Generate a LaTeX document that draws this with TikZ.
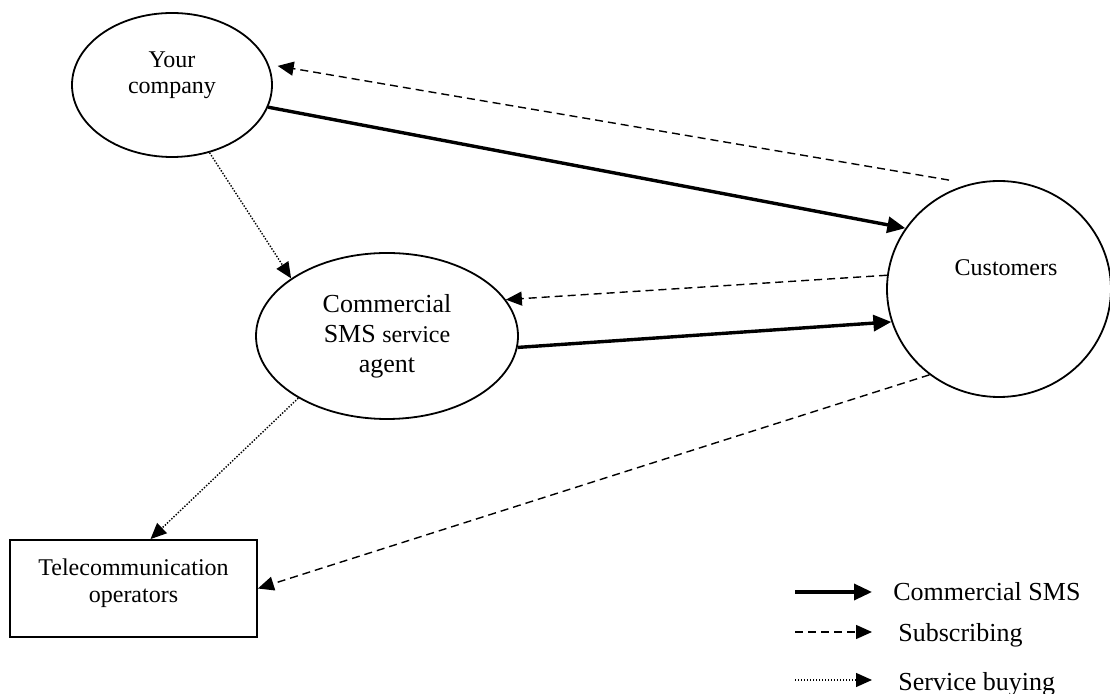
\documentclass[tikz,border=0pt]{standalone}
\usepackage{fontspec}
\setmainfont{Liberation Serif}
\usetikzlibrary{arrows.meta,shapes.geometric,calc}
\begin{document}
\begin{tikzpicture}[x=0.5pt,y=-0.5pt,
 ell/.style={draw,ellipse,line width=0.9pt,inner sep=0pt},
 boxnode/.style={draw,rectangle,line width=0.9pt,inner sep=0pt},
 sms/.style={line width=1.7pt,-{Triangle[length=9pt,width=8pt]}},
 sub/.style={line width=0.7pt,dash pattern=on 4pt off 2.5pt,-{Triangle[length=8pt,width=7pt]}},
 buy/.style={line width=0.7pt,dash pattern=on 0.7pt off 0.8pt,-{Triangle[length=8pt,width=7pt]}},
 txt/.style={font=\fontsize{12}{13}\selectfont,align=center,inner sep=0pt},
 leg/.style={font=\fontsize{13}{15}\selectfont,anchor=west,inner sep=0pt}]
\useasboundingbox (0,0) rectangle (1110,694);
% nodes
\node[ell,minimum width=100pt,minimum height=72pt] (yc) at (172,85) {};
\node[txt] (yct) at (172,75) {Your\\company};
\node[ell,minimum width=131pt,minimum height=83pt,align=center,
      font=\fontsize{13}{15}\selectfont] (ag) at (387,336)
      {Commercial\\SMS {\fontsize{12}{15}\selectfont service}\\agent};
\node[ell,minimum width=112pt,minimum height=108pt] (cu) at (999,289) {};
\node[txt] (cut) at (1006,268) {Customers};
\node[boxnode,minimum width=123.5pt,minimum height=48.5pt] (tc) at (133.5,588.5) {};
\node[txt,font=\fontsize{12}{13.5}\selectfont] (tct) at (133.5,583) {Telecommunication\\operators};
% connectors
\draw[sms] (yc.-13) -- (cu.147.4);
\draw[sub,shorten >=4.5pt] ($(cu.north)+(-50,0)$) -- (yc.12);
\draw[buy] (yc.-61.5) -- (ag.149);
\draw[sub] (cu.173.8) -- (ag.17);
\draw[sms] (ag.-5.3) -- (cu.197.8);
\draw[buy] (ag.215.1) -- (tc.71.6);
\draw[sub] (cu.231.1) -- (tc.east);
% legend
\coordinate (l1a) at (795,592); \coordinate (l1b) at (872,592);
\coordinate (l2a) at (795,632); \coordinate (l2b) at (872,632);
\coordinate (l3a) at (795,680); \coordinate (l3b) at (872,680);
\draw[sms] (l1a) -- (l1b);
\draw[sub] (l2a) -- (l2b);
\draw[buy] (l3a) -- (l3b);
\node[leg] (t1) at (893,591.5) {Commercial SMS};
\node[leg] (t2) at (898,635) {Subscribing};
\node[leg] (t3) at (898,684) {Service buying};
\end{tikzpicture}
\end{document}
